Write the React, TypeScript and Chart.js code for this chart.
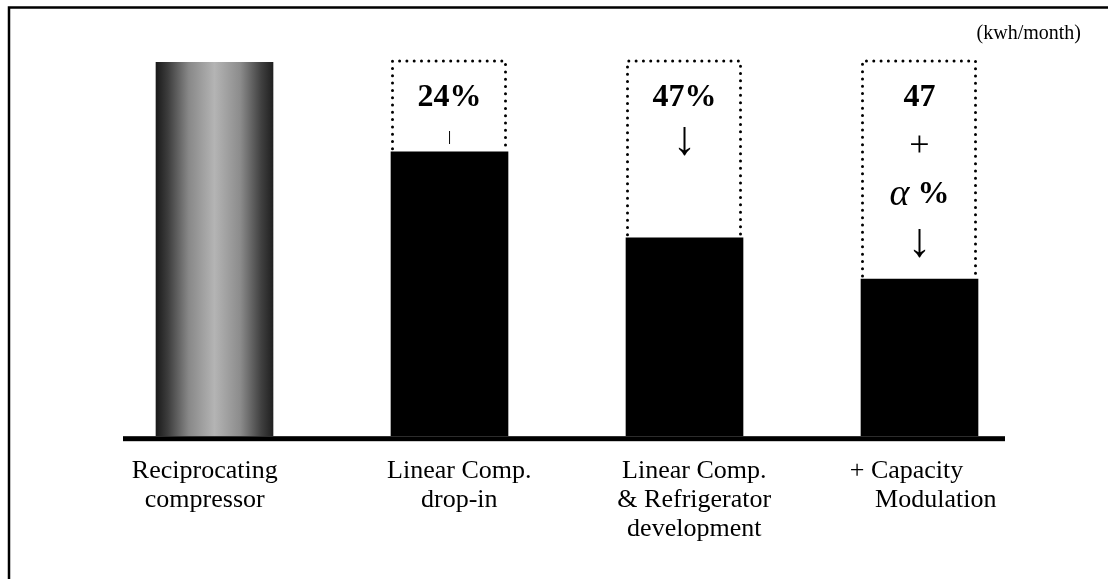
import React, { useEffect, useRef } from "react";
import { Chart, registerables } from "chart.js";

Chart.register(...registerables);

// ---- data ----
const categories: string[][] = [
  ["Reciprocating   ", "compressor   "],
  ["   Linear Comp.", "   drop-in"],
  ["   Linear Comp.", "   & Refrigerator", "   development"],
  ["+ Capacity    ", "     Modulation"],
];
const consumption: number[] = [100, 76, 53, 42];
const reduction: (number | null)[] = [null, 24, 47, 58];
const reductionLabels: string[][] = [[], ["24%", "|"], ["47%", "↓"], ["47", "+", "α %", "↓"]];
const unitLabel = "(kwh/month)";

const SERIF = "'Liberation Serif', 'Times New Roman', serif";

const decor = {
  id: "decor",
  beforeDraw(chart: any) {
    const ctx = chart.ctx;
    ctx.save();
    ctx.fillStyle = "#fff";
    ctx.fillRect(0, 0, chart.width, chart.height);
    ctx.strokeStyle = "#000";
    ctx.lineWidth = 2.5;
    ctx.beginPath();
    ctx.moveTo(9, chart.height);
    ctx.lineTo(9, 7.5);
    ctx.lineTo(chart.width, 7.5);
    ctx.stroke();
    ctx.font = `20px ${SERIF}`;
    ctx.fillStyle = "#000";
    ctx.textAlign = "right";
    ctx.textBaseline = "middle";
    ctx.fillText(unitLabel, chart.width - 27, 34);
    ctx.restore();
  },
  afterDatasetsDraw(chart: any) {
    const ctx = chart.ctx;
    const area = chart.chartArea;
    ctx.save();
    ctx.fillStyle = "#000";
    ctx.fillRect(area.left + 26, area.bottom, area.right - area.left - 58, 5);

    const meta = chart.getDatasetMeta(1);
    meta.data.forEach((el: any, i: number) => {
      if (reduction[i] == null) return;
      const { x, y, base, width } = el.getProps(["x", "y", "base", "width"], true);
      const l = x - width / 2 + 1.5;
      const r = x + width / 2 - 2.5;
      const t = y - 1;
      ctx.save();
      ctx.setLineDash([0, 7.3]);
      ctx.lineCap = "round";
      ctx.lineWidth = 3;
      ctx.strokeStyle = "#000";
      ctx.beginPath();
      ctx.moveTo(l, base - 3);
      ctx.lineTo(l, t);
      ctx.lineTo(r, t);
      ctx.lineTo(r, base - 3);
      ctx.stroke();
      ctx.restore();

      const lines = reductionLabels[i];
      const step = lines.length > 2 ? 48.5 : 43;
      ctx.fillStyle = "#000";
      ctx.textBaseline = "middle";
      ctx.textAlign = "center";
      lines.forEach((s, k) => {
        const cy = y + 36 + k * step;
        if (s === "|") {
          ctx.font = `bold 14px ${SERIF}`;
          ctx.fillText(s, x, cy - 4);
        } else if (s === "+") {
          ctx.font = `36px ${SERIF}`;
          ctx.fillText(s, x, cy);
        } else if (s === "↓") {
          ctx.font = `48px ${SERIF}`;
          ctx.fillText(s, x, cy);
        } else if (s.startsWith("α")) {
          const a = "α";
          const rest = s.slice(1).trim();
          ctx.font = `italic 38px ${SERIF}`;
          const wa = ctx.measureText(a).width;
          ctx.font = `bold 32px ${SERIF}`;
          const wr = ctx.measureText(rest).width;
          const gap = 8;
          const start = x - (wa + gap + wr) / 2;
          ctx.textAlign = "left";
          ctx.font = `italic 38px ${SERIF}`;
          ctx.fillText(a, start, cy);
          ctx.font = `bold 32px ${SERIF}`;
          ctx.fillText(rest, start + wa + gap, cy);
          ctx.textAlign = "center";
        } else {
          ctx.font = `bold 32px ${SERIF}`;
          ctx.fillText(s, x, cy);
        }
      });
    });
    ctx.restore();
  },
};

function firstBarFill(c: any) {
  if (c.dataIndex !== 0) return "#000";
  const chart = c.chart;
  const xs = chart.scales && chart.scales.x;
  if (!xs || !chart.chartArea) return "#888";
  const cx = xs.getPixelForValue(0);
  const g = chart.ctx.createLinearGradient(cx - 58.5, 0, cx + 58.5, 0);
  g.addColorStop(0, "#1a1a1a");
  g.addColorStop(0.1, "#3c3c3c");
  g.addColorStop(0.28, "#888888");
  g.addColorStop(0.5, "#b4b4b4");
  g.addColorStop(0.72, "#8c8c8c");
  g.addColorStop(0.9, "#404040");
  g.addColorStop(1, "#202020");
  return g;
}

export default function App() {
  const ref = useRef<HTMLCanvasElement | null>(null);
  useEffect(() => {
    if (!ref.current) return;
    const chart = new Chart(ref.current, {
      type: "bar",
      data: {
        labels: categories as any,
        datasets: [
          {
            data: consumption,
            backgroundColor: firstBarFill as any,
            borderWidth: 0,
            barThickness: 117,
            stack: "s",
          },
          {
            data: reduction as any,
            backgroundColor: "rgba(0,0,0,0)",
            borderWidth: 0,
            barThickness: 117,
            stack: "s",
          },
        ],
      },
      options: {
        responsive: false,
        animation: false,
        layout: { padding: { left: 97, right: 71, top: 62, bottom: 15 } },
        plugins: { legend: { display: false }, tooltip: { enabled: false } },
        scales: {
          x: {
            stacked: true,
            grid: { display: false, drawTicks: false },
            border: { display: false },
            ticks: {
              color: "#000",
              padding: 21,
              maxRotation: 0,
              autoSkip: false,
              font: { family: SERIF, size: 26, lineHeight: 1.1 },
            },
          },
          y: { stacked: true, display: false, min: 0, max: 100 },
        },
      },
      plugins: [decor],
    });
    return () => chart.destroy();
  }, []);
  return (
    <canvas
      ref={ref}
      width={1108}
      height={579}
      style={{ position: "absolute", left: 0, top: 0, display: "block" }}
    />
  );
}
